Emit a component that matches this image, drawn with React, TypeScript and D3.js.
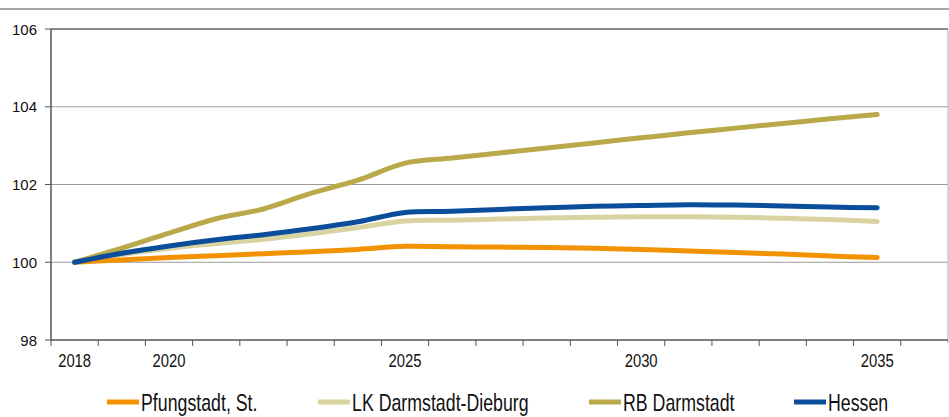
import React from "react";
import * as d3 from "d3";

const years = [2018, 2019, 2020, 2021, 2022, 2023, 2024, 2025, 2026, 2027, 2028, 2029, 2030, 2031, 2032, 2033, 2034, 2035];
const slots = [...years, 2036];
const tickLabels = [2018, 2020, 2025, 2030, 2035];
const yTicks = [98, 100, 102, 104, 106];

const pfungstadt = [100, 100.06, 100.12, 100.17, 100.22, 100.27, 100.33, 100.41, 100.4, 100.39, 100.38, 100.36, 100.33, 100.29, 100.25, 100.21, 100.16, 100.12];
const lkDarmstadt = [100, 100.2, 100.36, 100.48, 100.59, 100.73, 100.89, 101.06, 101.08, 101.11, 101.14, 101.16, 101.17, 101.17, 101.16, 101.13, 101.1, 101.05];
const rbDarmstadt = [100, 100.36, 100.75, 101.12, 101.37, 101.77, 102.11, 102.55, 102.68, 102.81, 102.94, 103.07, 103.2, 103.33, 103.45, 103.57, 103.69, 103.8];
const hessen = [100, 100.23, 100.42, 100.58, 100.71, 100.86, 101.04, 101.28, 101.31, 101.36, 101.4, 101.44, 101.46, 101.48, 101.47, 101.45, 101.42, 101.4];

const seriesNames = ["Pfungstadt, St.", "LK Darmstadt-Dieburg", "RB Darmstadt", "Hessen"];
const seriesValues = [pfungstadt, lkDarmstadt, rbDarmstadt, hessen];
const seriesColors = ["#F39200", "#D8D3A0", "#B9A94B", "#0A4D9A"];
const drawOrder = [1, 0, 2, 3];

const legendX = [107, 318, 589, 794];

export default function App() {
  const W = 949, H = 417;
  const left = 51, right = 948, top = 29, bottom = 340;
  const x = d3.scaleBand<number>().domain(slots).range([left, right]).padding(0);
  const y = d3.scaleLinear().domain([98, 106]).range([bottom, top]);
  const bw = x.bandwidth();
  const line = d3
    .line<number>()
    .x((_, i) => (x(years[i]) as number) + bw / 2)
    .y((v) => y(v))
    .curve(d3.curveCatmullRom.alpha(0.5));
  const font = "'Liberation Sans', Arial, sans-serif";
  return (
    <svg width={W} height={H} style={{ position: "absolute", left: 0, top: 0 }}>
      <rect width={W} height={H} fill="#fff" />
      <line x1={0} x2={W} y1={9} y2={9} stroke="#8a8a8a" strokeWidth={1.5} />
      {yTicks.slice(1, 4).map((t) => (
        <line key={t} x1={left} x2={right} y1={y(t)} y2={y(t)} stroke="#9a9a9a" strokeWidth={1} />
      ))}
      <line x1={left} x2={right} y1={top} y2={top} stroke="#8a8a8a" strokeWidth={2} />
      <line x1={right} x2={right} y1={top} y2={bottom + 3} stroke="#aaa" strokeWidth={1} />
      <line x1={left} x2={left} y1={top} y2={bottom} stroke="#555" strokeWidth={1.5} />
      <line x1={left} x2={right} y1={bottom} y2={bottom} stroke="#555" strokeWidth={1.5} />
      {yTicks.map((t) => (
        <g key={t}>
          <line x1={left - 6} x2={left} y1={y(t)} y2={y(t)} stroke="#555" strokeWidth={1} />
          <text x={37} y={y(t) + 5.5} textAnchor="end" fontFamily={font} fontSize={15} fill="#111">
            {t}
          </text>
        </g>
      ))}
      {slots.map((s) => (
        <line key={s} x1={x(s)} x2={x(s)} y1={bottom} y2={bottom + 6} stroke="#555" strokeWidth={1} />
      ))}
      {tickLabels.map((t) => {
        const cx = (x(t) as number) + bw / 2;
        return (
          <text
            key={t}
            transform={`translate(${cx},367) scale(0.78,1)`}
            textAnchor="middle"
            fontFamily={font}
            fontSize={19}
            fill="#111"
          >
            {t}
          </text>
        );
      })}
      {drawOrder.map((i) => (
        <path
          key={i}
          d={line(seriesValues[i]) as string}
          fill="none"
          stroke={seriesColors[i]}
          strokeWidth={5}
          strokeLinecap="round"
          strokeLinejoin="round"
        />
      ))}
      {seriesNames.map((n, i) => (
        <g key={n}>
          <line x1={legendX[i]} x2={legendX[i] + 32} y1={402} y2={402} stroke={seriesColors[i]} strokeWidth={5} />
          <text
            transform={`translate(${legendX[i] + 34},411) scale(0.74,1)`}
            fontFamily={font}
            fontSize={24}
            fill="#111"
          >
            {n}
          </text>
        </g>
      ))}
    </svg>
  );
}
